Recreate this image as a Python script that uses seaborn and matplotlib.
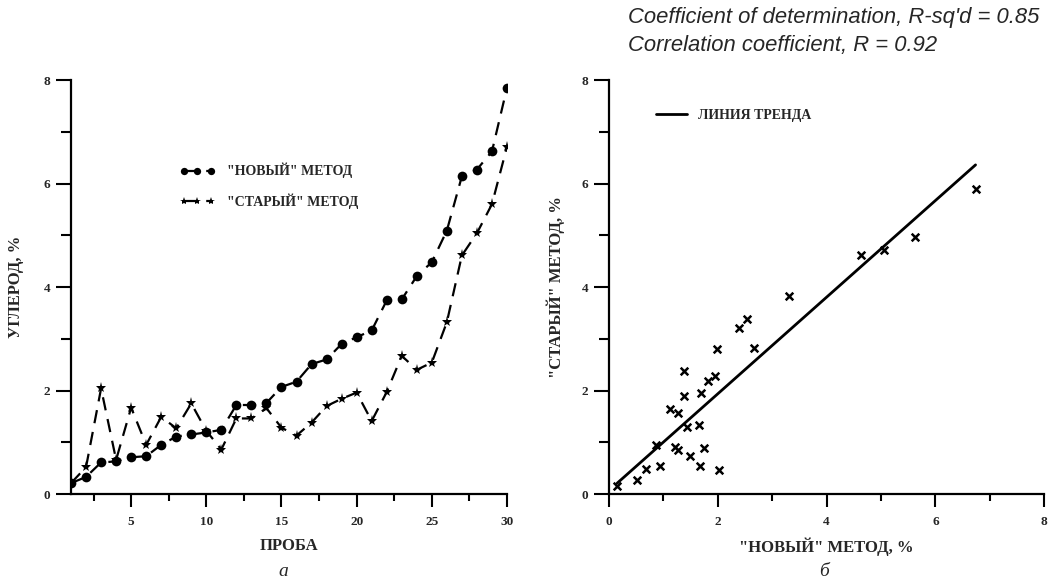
import numpy as np
import pandas as pd
import seaborn as sns
import matplotlib.pyplot as plt
from matplotlib.ticker import MultipleLocator

# left panel: carbon content per sample, two methods
sample = list(range(1, 31))
new_method = [0.21, 0.33, 0.61, 0.63, 0.71, 0.73, 0.95, 1.11, 1.15, 1.19,
              1.24, 1.72, 1.72, 1.76, 2.07, 2.17, 2.51, 2.60, 2.90, 3.03,
              3.16, 3.74, 3.76, 4.21, 4.48, 5.09, 6.14, 6.27, 6.62, 7.85]
old_method = [0.21, 0.52, 2.04, 0.66, 1.67, 0.95, 1.49, 1.27, 1.75, 1.22,
              0.86, 1.46, 1.46, 1.66, 1.28, 1.13, 1.38, 1.70, 1.84, 1.96,
              1.41, 1.97, 2.67, 2.40, 2.54, 3.32, 4.61, 5.04, 5.60, 6.71]

# right panel: scatter "new" vs "old"
sc_new = [0.15, 0.52, 0.68, 0.87, 0.94, 1.12, 1.21, 1.26, 1.26, 1.38,
          1.37, 1.44, 1.49, 1.66, 1.70, 1.67, 1.74, 1.82, 1.95, 1.98,
          2.03, 2.39, 2.54, 2.66, 3.31, 4.64, 5.05, 5.63, 6.74]
sc_old = [0.15, 0.27, 0.49, 0.95, 0.55, 1.64, 0.91, 0.85, 1.57, 2.38,
          1.90, 1.30, 0.73, 1.33, 1.96, 0.54, 0.88, 2.19, 2.28, 2.81,
          0.46, 3.20, 3.39, 2.83, 3.83, 4.62, 4.72, 4.97, 5.89]
trend_x = [0.15, 6.74]
trend_y = [0.21, 6.36]

sns.set_style("ticks")
plt.rcParams['font.family'] = ['Liberation Serif', 'DejaVu Serif']
plt.rcParams['font.weight'] = 'bold'
plt.rcParams['axes.labelweight'] = 'bold'

fig = plt.figure(figsize=(10.49, 5.84), dpi=100)
ax1 = fig.add_axes([0.0677, 0.1541, 0.4156, 0.7089])
ax2 = fig.add_axes([0.5806, 0.1541, 0.4147, 0.7089])

df = pd.DataFrame({'x': sample, 'new': new_method, 'old': old_method})
sns.lineplot(data=df, x='x', y='new', ax=ax1, color='black', marker='o',
             markersize=7, linestyle='--', lw=1.6, markeredgewidth=0,
             label='"НОВЫЙ" МЕТОД')
ax1.lines[-1].set_dashes([6, 4])
sns.lineplot(data=df, x='x', y='old', ax=ax1, color='black', marker='*',
             markersize=8, linestyle='--', lw=1.6, markeredgewidth=0,
             label='"СТАРЫЙ" МЕТОД')
ax1.lines[-1].set_dashes([6, 4])

ax1.set_xlim(1, 30)
ax1.set_ylim(0, 8)
ax1.xaxis.set_major_locator(MultipleLocator(5))
ax1.xaxis.set_minor_locator(MultipleLocator(2.5))
ax1.yaxis.set_major_locator(MultipleLocator(2))
ax1.yaxis.set_minor_locator(MultipleLocator(1))
ax1.set_xlabel('ПРОБА', fontsize=12, labelpad=7)
ax1.set_ylabel('УГЛЕРОД, %', fontsize=12, labelpad=14)
ax1.legend(loc='upper left', bbox_to_anchor=(0.22, 0.83), frameon=False,
           numpoints=3, handlelength=2.6, labelspacing=1.1, markerscale=0.75,
           prop={'weight': 'bold', 'size': 10})

dfs = pd.DataFrame({'new': sc_new, 'old': sc_old})
sns.scatterplot(data=dfs, x='new', y='old', ax=ax2, marker='x', color='black',
                s=30, linewidth=1.8)
sns.lineplot(x=trend_x, y=trend_y, ax=ax2, color='black', lw=2,
             label='ЛИНИЯ ТРЕНДА')
ax2.set_xlim(0, 8)
ax2.set_ylim(0, 8)
ax2.xaxis.set_major_locator(MultipleLocator(2))
ax2.xaxis.set_minor_locator(MultipleLocator(1))
ax2.yaxis.set_major_locator(MultipleLocator(2))
ax2.yaxis.set_minor_locator(MultipleLocator(1))
ax2.set_xlabel('"НОВЫЙ" МЕТОД, %', fontsize=12, labelpad=7)
ax2.set_ylabel('"СТАРЫЙ" МЕТОД, %', fontsize=12, labelpad=12)
ax2.legend(loc='upper left', bbox_to_anchor=(0.08, 0.96), frameon=False,
           handlelength=2.2, prop={'weight': 'bold', 'size': 10})

for ax in (ax1, ax2):
    sns.despine(ax=ax)
    for s in ('left', 'bottom'):
        ax.spines[s].set_linewidth(1.6)
        ax.spines[s].set_color('black')
    ax.tick_params(axis='x', which='major', length=9, width=1.5,
                   color='black', labelsize=9.5, pad=7)
    ax.tick_params(axis='y', which='major', length=11, width=1.5,
                   color='black', labelsize=9.5, pad=4)
    ax.tick_params(axis='x', which='minor', length=5, width=1.5, color='black')
    ax.tick_params(axis='y', which='minor', length=7, width=1.5, color='black')
    for t in ax.get_xticklabels() + ax.get_yticklabels():
        t.set_fontweight('bold')

fig.text(0.27, 0.022, 'а', fontsize=14, style='italic', weight='normal',
         ha='center', va='center')
fig.text(0.786, 0.022, 'б', fontsize=14, style='italic', weight='normal',
         ha='center', va='center')

fig.text(0.599, 0.97, "Coefficient of determination, R-sq'd = 0.85",
         family='Liberation Sans', style='italic', weight='normal',
         fontsize=15.8, va='center')
fig.text(0.599, 0.922, 'Correlation coefficient, R = 0.92',
         family='Liberation Sans', style='italic', weight='normal',
         fontsize=15.8, va='center')

plt.savefig('out.png', dpi=100)
